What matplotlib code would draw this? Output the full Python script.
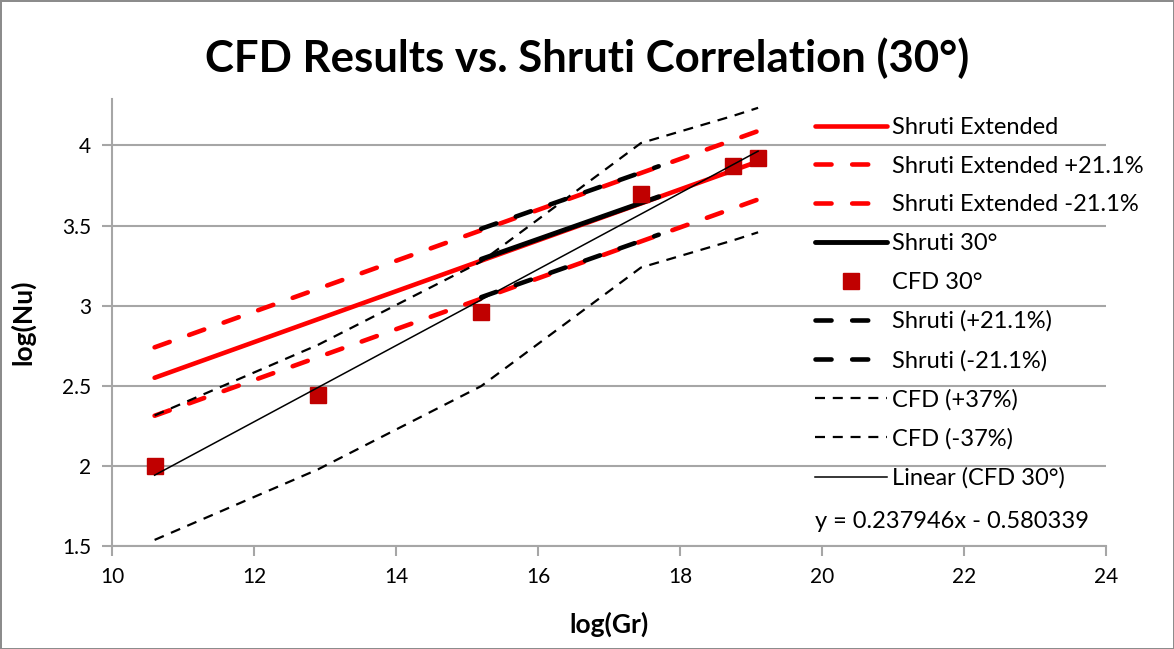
import matplotlib
matplotlib.use("Agg")
from matplotlib import pyplot as plt

plt.rcParams['font.family'] = ['Lato', 'DejaVu Sans']

# CFD results, log(Gr) vs log(Nu)
cfd_gr = [10.6, 12.9, 15.2, 17.45, 18.75, 19.1]
cfd_nu = [2.0, 2.44, 2.96, 3.70, 3.87, 3.92]
cfd_plus37 = [2.315, 2.755, 3.275, 4.015, 4.185, 4.235]
cfd_minus37 = [1.538, 1.978, 2.498, 3.238, 3.408, 3.458]

# Shruti correlation, extended over full range
ext_gr = [10.6, 19.1]
ext_nu = [2.55, 3.90]
ext_plus = [2.74, 4.09]
ext_minus = [2.313, 3.663]

# Shruti correlation over its valid range (30 deg)
sh_gr = [15.2, 17.7]
sh_nu = [3.29, 3.68]
sh_plus = [3.48, 3.87]
sh_minus = [3.053, 3.443]

# trendline through CFD points
slope, intercept = 0.237946, -0.580339
fit_gr = [10.6, 19.1]
fit_nu = [slope * g + intercept for g in fit_gr]

RED = '#FF0000'
DARKRED = '#C00000'
GRID = '#A6A6A6'

fig = plt.figure(figsize=(11.74, 6.49), dpi=100)
fig.patch.set_edgecolor('#8C8C8C')
fig.patch.set_linewidth(2)
ax = fig.add_axes([112/1174, 1-546/649, (1106-112)/1174, (546-99)/649])

long_dash = (3.5, 4.5)
short_dash = (4.5, 3.5)

ax.plot(ext_gr, ext_nu, color=RED, lw=3.3, solid_capstyle='round', label='Shruti Extended', zorder=3)
ax.plot(ext_gr, ext_plus, color=RED, lw=3.3, dashes=long_dash, dash_capstyle='round', label='Shruti Extended +21.1%', zorder=3)
ax.plot(ext_gr, ext_minus, color=RED, lw=3.3, dashes=long_dash, dash_capstyle='round', label='Shruti Extended -21.1%', zorder=3)
ax.plot(sh_gr, sh_nu, color='black', lw=3.5, solid_capstyle='round', label='Shruti 30°', zorder=4)
ax.plot(cfd_gr, cfd_nu, ls='none', marker='s', ms=11, color=DARKRED, label='CFD 30°', zorder=5)
ax.plot(sh_gr, sh_plus, color='black', lw=3.3, dashes=long_dash, dash_capstyle='round', label='Shruti (+21.1%)', zorder=4)
ax.plot(sh_gr, sh_minus, color='black', lw=3.3, dashes=long_dash, dash_capstyle='round', label='Shruti (-21.1%)', zorder=4)
ax.plot(cfd_gr, cfd_plus37, color='black', lw=1.6, dashes=short_dash, label='CFD (+37%)', zorder=4)
ax.plot(cfd_gr, cfd_minus37, color='black', lw=1.6, dashes=short_dash, label='CFD (-37%)', zorder=4)
ax.plot(fit_gr, fit_nu, color='black', lw=1.1, label='Linear (CFD 30°)', zorder=6)

ax.set_xlim(10, 24)
ax.set_ylim(1.5, 4.29)
ax.set_xticks(range(10, 25, 2))
ax.set_yticks([1.5, 2, 2.5, 3, 3.5, 4])
ax.set_yticklabels(['1.5', '2', '2.5', '3', '3.5', '4'])
ax.grid(axis='y', color=GRID, lw=1.5, zorder=0)
ax.set_axisbelow(True)
for side in ['top', 'right']:
    ax.spines[side].set_visible(False)
for side in ['left', 'bottom']:
    ax.spines[side].set_color(GRID)
    ax.spines[side].set_linewidth(1.5)
ax.tick_params(colors=GRID, labelcolor='black', labelsize=15, length=7, width=1.5, pad=8)

ax.set_xlabel('log(Gr)', fontsize=19, fontweight='bold', labelpad=18)
ax.set_ylabel('log(Nu)', fontsize=19, fontweight='bold', labelpad=19)
fig.suptitle('CFD Results vs. Shruti Correlation (30°)', fontsize=31.5, fontweight='bold', y=1-58/649, va='center')

leg = fig.legend(loc='upper left', bbox_to_anchor=(815/1174, 1-117/649), frameon=False,
                 fontsize=17, handlelength=3.05, handletextpad=0.2, labelspacing=0.75,
                 borderpad=0, borderaxespad=0)
fig.text(815/1174, 1-522/649, 'y = 0.237946x - 0.580339', fontsize=17, va='center')

fig.savefig('out.png', dpi=100, edgecolor=fig.get_edgecolor())
